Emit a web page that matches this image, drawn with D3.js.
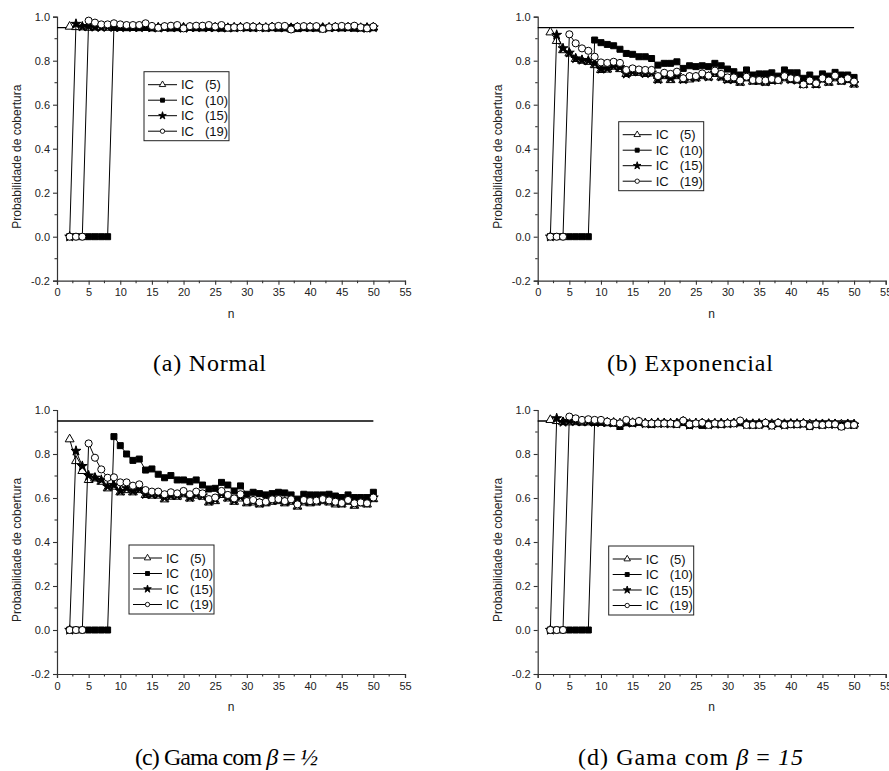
<!DOCTYPE html>
<html><head><meta charset="utf-8">
<script src="https://cdn.jsdelivr.net/npm/d3@7"></script>
<style>
html,body{margin:0;padding:0;background:#fff;}
svg{display:block;}
.sans{font-family:'Liberation Sans', Arial, Helvetica, sans-serif;}
.serif{font-family:'Liberation Serif', 'Times New Roman', Times, serif;}
</style></head>
<body>
<script>
// ---------- data ----------
const nValues = [2,3,4,5,6,7,8,9,10,11,12,13,14,15,16,17,18,19,20,21,22,23,24,25,26,27,28,29,30,31,32,33,34,35,36,37,38,39,40,41,42,43,44,45,46,47,48,49,50];
const seriesNames = ["IC", "IC", "IC", "IC"];
const seriesTags = ["(5)", "(10)", "(15)", "(19)"];
const nominalLevel = 0.95;
const nominalRange = [0, 50];

const xTickValues = [0,5,10,15,20,25,30,35,40,45,50,55];
const xTickLabels = ["0","5","10","15","20","25","30","35","40","45","50","55"];
const xMinorTicks = [2.5,7.5,12.5,17.5,22.5,27.5,32.5,37.5,42.5,47.5,52.5];
const yTickValues = [-0.2,0,0.2,0.4,0.6,0.8,1.0];
const yTickLabels = ["-0.2","0.0","0.2","0.4","0.6","0.8","1.0"];
const yMinorTicks = [-0.1,0.1,0.3,0.5,0.7,0.9];

const captions = ["(a) Normal", "(b) Exponencial", "(c) Gama com β = ½", "(d) Gama com β = 15"];
const yTitle = "Probabilidade de cobertura";
const xTitle = "n";

// Panel (a) Normal
const normalIC5 = [0.955,0.953,0.952,0.950,0.951,0.952,0.950,0.949,0.951,0.950,
  0.952,0.950,0.949,0.950,0.951,0.950,0.948,0.950,0.951,0.950,
  0.949,0.950,0.951,0.949,0.950,0.948,0.950,0.951,0.949,0.950,
  0.950,0.948,0.951,0.950,0.947,0.949,0.950,0.951,0.950,0.946,
  0.950,0.949,0.951,0.950,0.949,0.948,0.947,0.950,0.951];
const normalIC10 = [0,0,0,0,0,0,0,0.956,0.952,0.950,
  0.951,0.950,0.952,0.949,0.950,0.951,0.949,0.950,0.948,0.951,
  0.950,0.949,0.951,0.950,0.948,0.950,0.949,0.951,0.950,0.949,
  0.951,0.949,0.950,0.948,0.951,0.950,0.946,0.950,0.949,0.951,
  0.948,0.950,0.951,0.949,0.950,0.948,0.950,0.949,0.950];
const normalIC15 = [0,0.967,0.955,0.957,0.953,0.952,0.954,0.952,0.951,0.953,
  0.952,0.951,0.953,0.950,0.949,0.951,0.952,0.950,0.948,0.951,
  0.951,0.952,0.950,0.951,0.950,0.949,0.950,0.951,0.952,0.950,
  0.951,0.950,0.952,0.951,0.950,0.947,0.950,0.951,0.950,0.951,
  0.947,0.950,0.951,0.952,0.951,0.952,0.949,0.948,0.951];
const normalIC19 = [0,0,0,0.982,0.973,0.965,0.965,0.970,0.965,0.962,
  0.962,0.962,0.970,0.958,0.950,0.957,0.959,0.962,0.947,0.957,
  0.959,0.959,0.962,0.955,0.962,0.950,0.952,0.952,0.957,0.955,
  0.952,0.952,0.955,0.958,0.958,0.942,0.955,0.957,0.955,0.957,
  0.944,0.952,0.955,0.958,0.955,0.959,0.952,0.947,0.955];

// Panel (b) Exponencial
const expIC5 = [0.929,0.890,0.848,0.833,0.808,0.800,0.795,0.780,0.758,0.760,
  0.773,0.762,0.740,0.745,0.745,0.740,0.742,0.712,0.730,0.712,
  0.730,0.712,0.715,0.720,0.730,0.724,0.740,0.724,0.712,0.712,
  0.700,0.720,0.705,0.705,0.700,0.708,0.710,0.720,0.712,0.710,
  0.690,0.705,0.690,0.715,0.700,0.720,0.705,0.712,0.692];
const expIC10 = [0,0,0,0,0,0,0,0.894,0.882,0.874,
  0.868,0.852,0.833,0.829,0.818,0.818,0.810,0.780,0.788,0.788,
  0.795,0.765,0.777,0.773,0.777,0.773,0.788,0.777,0.762,0.750,
  0.735,0.758,0.735,0.740,0.740,0.745,0.730,0.758,0.745,0.745,
  0.720,0.735,0.717,0.740,0.730,0.747,0.735,0.735,0.724];
const expIC15 = [0,0.917,0.856,0.836,0.810,0.803,0.800,0.788,0.762,0.765,
  0.776,0.770,0.740,0.750,0.750,0.742,0.745,0.715,0.735,0.720,
  0.735,0.715,0.724,0.724,0.735,0.727,0.745,0.727,0.715,0.715,
  0.705,0.724,0.710,0.710,0.705,0.712,0.712,0.724,0.715,0.712,
  0.694,0.708,0.694,0.717,0.705,0.724,0.710,0.715,0.697];
const expIC19 = [0,0,0,0.920,0.879,0.856,0.845,0.818,0.792,0.790,
  0.795,0.790,0.758,0.765,0.760,0.758,0.758,0.730,0.745,0.740,
  0.750,0.720,0.730,0.730,0.742,0.732,0.755,0.740,0.724,0.724,
  0.710,0.727,0.712,0.712,0.710,0.717,0.712,0.730,0.720,0.717,
  0.692,0.710,0.697,0.720,0.710,0.732,0.710,0.720,0.705];

// Panel (c) Gama beta = 1/2
const gHalfIC5 = [0.867,0.768,0.723,0.682,0.689,0.674,0.644,0.652,0.626,0.636,
  0.626,0.636,0.614,0.611,0.611,0.594,0.606,0.606,0.617,0.598,
  0.611,0.606,0.580,0.586,0.614,0.598,0.583,0.598,0.576,0.580,
  0.571,0.576,0.583,0.586,0.576,0.583,0.561,0.580,0.576,0.580,
  0.586,0.580,0.571,0.571,0.583,0.565,0.576,0.571,0.595];
const gHalfIC10 = [0,0,0,0,0,0,0,0.879,0.838,0.800,
  0.771,0.777,0.727,0.732,0.708,0.692,0.702,0.682,0.682,0.674,
  0.682,0.659,0.641,0.644,0.671,0.659,0.632,0.655,0.617,0.626,
  0.620,0.614,0.620,0.626,0.623,0.614,0.595,0.617,0.614,0.614,
  0.614,0.617,0.609,0.602,0.614,0.602,0.602,0.602,0.626];
const gHalfIC15 = [0,0.814,0.745,0.702,0.692,0.682,0.652,0.659,0.632,0.644,
  0.632,0.641,0.617,0.617,0.617,0.602,0.611,0.611,0.621,0.603,
  0.617,0.611,0.586,0.594,0.620,0.603,0.589,0.606,0.583,0.586,
  0.577,0.583,0.589,0.592,0.583,0.589,0.568,0.586,0.583,0.586,
  0.594,0.586,0.580,0.577,0.589,0.573,0.583,0.577,0.602];
const gHalfIC19 = [0,0,0,0.848,0.783,0.730,0.692,0.694,0.671,0.671,
  0.656,0.662,0.636,0.629,0.629,0.617,0.626,0.621,0.632,0.617,
  0.629,0.621,0.595,0.602,0.632,0.614,0.598,0.617,0.586,0.591,
  0.580,0.583,0.594,0.595,0.586,0.594,0.571,0.591,0.586,0.588,
  0.595,0.589,0.583,0.577,0.591,0.576,0.580,0.576,0.602];

// Panel (d) Gama beta = 15
const g15IC5 = [0.955,0.950,0.945,0.944,0.945,0.943,0.944,0.942,0.943,0.942,
  0.941,0.940,0.942,0.941,0.942,0.940,0.939,0.941,0.940,0.939,
  0.940,0.941,0.938,0.939,0.940,0.938,0.939,0.940,0.938,0.939,
  0.941,0.938,0.937,0.938,0.939,0.937,0.938,0.937,0.938,0.937,
  0.938,0.936,0.937,0.936,0.937,0.936,0.935,0.936,0.935];
const g15IC10 = [0,0,0,0,0,0,0,0.945,0.945,0.942,
  0.940,0.925,0.942,0.940,0.945,0.938,0.935,0.938,0.940,0.938,
  0.937,0.945,0.930,0.938,0.930,0.935,0.937,0.935,0.938,0.940,
  0.942,0.935,0.933,0.935,0.938,0.932,0.938,0.933,0.936,0.935,
  0.937,0.925,0.935,0.933,0.935,0.934,0.930,0.934,0.932];
const g15IC15 = [0,0.962,0.945,0.950,0.948,0.946,0.947,0.945,0.944,0.943,
  0.942,0.930,0.943,0.941,0.945,0.938,0.937,0.940,0.939,0.938,
  0.937,0.948,0.932,0.939,0.935,0.933,0.937,0.936,0.938,0.940,
  0.945,0.934,0.933,0.934,0.938,0.930,0.938,0.932,0.936,0.936,
  0.938,0.928,0.935,0.933,0.936,0.935,0.928,0.934,0.933];
const g15IC19 = [0,0,0,0.970,0.962,0.955,0.958,0.955,0.955,0.947,
  0.944,0.939,0.955,0.944,0.950,0.939,0.939,0.939,0.939,0.939,
  0.936,0.952,0.935,0.939,0.942,0.932,0.939,0.936,0.939,0.939,
  0.952,0.932,0.932,0.932,0.942,0.929,0.942,0.932,0.935,0.935,
  0.939,0.927,0.935,0.932,0.935,0.935,0.924,0.932,0.932];

// ---------- layout ----------
const W = 889, H = 771;
const plotW = 348, plotH = 264;
const panels = [
  {x0: 57,    yTop: 16.7, legend: [87, 55],  series: [normalIC5, normalIC10, normalIC15, normalIC19], cap: {x: 153, y: 371, w: 113}},
  {x0: 537.7, yTop: 16.7, legend: [81, 105], series: [expIC5, expIC10, expIC15, expIC19],             cap: {x: 607, y: 371, w: 166}},
  {x0: 57,    yTop: 410,  legend: [72, 135], series: [gHalfIC5, gHalfIC10, gHalfIC15, gHalfIC19],     cap: {x: 135, y: 765, w: 183}},
  {x0: 537.7, yTop: 410,  legend: [71, 136], series: [g15IC5, g15IC10, g15IC15, g15IC19],             cap: {x: 578, y: 765, w: 225}}
];

const symbolTypes = [d3.symbolTriangle, d3.symbolSquare, d3.symbolStar, d3.symbolCircle];
const symbolFill = ["#fff", "#000", "#000", "#fff"];
const symbolSize = [34, 36, 30, 40];
const legendSymbolSize = [18, 16, 18, 15];

const svg = d3.select("body").append("svg").attr("width", W).attr("height", H)
  .attr("class", "sans");
svg.append("rect").attr("width", W).attr("height", H).attr("fill", "#fff");

const axisColor = "#333";

panels.forEach((p, pi) => {
  const x = d3.scaleLinear().domain([0, 55]).range([p.x0, p.x0 + plotW]);
  const y = d3.scaleLinear().domain([-0.2, 1.0]).range([p.yTop + plotH, p.yTop]);
  const g = svg.append("g");

  // x axis
  const xa = g.append("g").attr("transform", `translate(0,${p.yTop + plotH})`)
    .call(d3.axisBottom(x).tickValues(xTickValues).tickSize(4).tickPadding(4)
      .tickFormat((d, i) => xTickLabels[i]));
  xa.append("g").selectAll("line").data(xMinorTicks).join("line")
    .attr("x1", d => x(d)).attr("x2", d => x(d)).attr("y1", 0).attr("y2", 2.5);
  // y axis
  const ya = g.append("g").attr("transform", `translate(${p.x0},0)`)
    .call(d3.axisLeft(y).tickValues(yTickValues).tickSize(4).tickPadding(3)
      .tickFormat((d, i) => yTickLabels[i]));
  ya.append("g").selectAll("line").data(yMinorTicks).join("line")
    .attr("y1", d => y(d)).attr("y2", d => y(d)).attr("x1", 0).attr("x2", -2.5);

  [xa, ya].forEach(a => {
    a.attr("font-family", null);
    a.selectAll(".domain").attr("stroke", axisColor).attr("stroke-width", 1.2);
    a.selectAll("line").attr("stroke", axisColor).attr("stroke-width", 1.1);
    a.selectAll("text").attr("fill", "#222").attr("font-size", 11).attr("class", "sans");
  });

  // titles
  g.append("text").attr("class", "sans").attr("x", x(27.5)).attr("y", p.yTop + plotH + 37)
    .attr("text-anchor", "middle").attr("font-size", 12).attr("fill", "#222").text(xTitle);
  g.append("text").attr("class", "sans").attr("transform", `translate(${p.x0 - 36},${p.yTop + 140}) rotate(-90)`)
    .attr("text-anchor", "middle").attr("font-size", 12).attr("fill", "#222").text(yTitle);

  // nominal reference line
  g.append("line").attr("x1", x(nominalRange[0])).attr("x2", x(nominalRange[1]))
    .attr("y1", y(nominalLevel)).attr("y2", y(nominalLevel))
    .attr("stroke", "#000").attr("stroke-width", 1.3);

  // series
  const line = d3.line().x((d, i) => x(nValues[i])).y(d => y(d));
  p.series.forEach((vals, si) => {
    g.append("path").attr("d", line(vals)).attr("fill", "none")
      .attr("stroke", "#000").attr("stroke-width", 1);
    const sym = d3.symbol().type(symbolTypes[si]).size(symbolSize[si]);
    g.append("g").selectAll("path").data(vals).join("path")
      .attr("transform", (d, i) => `translate(${x(nValues[i])},${y(d)})`)
      .attr("d", sym())
      .attr("fill", symbolFill[si]).attr("stroke", "#000").attr("stroke-width", 1);
  });

  // legend
  const lg = g.append("g").attr("transform", `translate(${p.x0 + p.legend[0]},${p.yTop + p.legend[1]})`);
  lg.append("rect").attr("width", 85).attr("height", 69).attr("fill", "#fff")
    .attr("stroke", "#222").attr("stroke-width", 1);
  seriesTags.forEach((tag, si) => {
    const ry = 13 + si * 15.5;
    lg.append("line").attr("x1", 4).attr("x2", 33).attr("y1", ry).attr("y2", ry)
      .attr("stroke", "#000").attr("stroke-width", 1);
    lg.append("path").attr("transform", `translate(18.5,${ry})`)
      .attr("d", d3.symbol().type(symbolTypes[si]).size(legendSymbolSize[si])())
      .attr("fill", symbolFill[si]).attr("stroke", "#000").attr("stroke-width", 0.9);
    lg.append("text").attr("class", "sans").attr("x", 37).attr("y", ry + 4.5).attr("font-size", 13).attr("fill", "#111")
      .text(seriesNames[si]);
    lg.append("text").attr("class", "sans").attr("x", 61).attr("y", ry + 4.5).attr("font-size", 13).attr("fill", "#111")
      .text(tag);
  });

  // caption
  const cap = svg.append("text").attr("class", "serif").attr("x", p.cap.x).attr("y", p.cap.y)
    .attr("font-size", 24)
    .attr("fill", "#000").attr("textLength", p.cap.w).attr("lengthAdjust", "spacing");
  const c = captions[pi];
  const bi = c.indexOf("β");
  if (bi < 0) {
    cap.text(c);
  } else {
    const head = c.slice(0, bi);
    const rest = c.slice(bi + 1);          // " = ½" or " = 15"
    const eq = rest.indexOf("=");
    cap.append("tspan").text(head);
    cap.append("tspan").attr("font-style", "italic").text("β");
    cap.append("tspan").text(rest.slice(0, eq + 1) + " ");
    cap.append("tspan").attr("font-style", "italic").text(rest.slice(eq + 1).trim());
  }
});
</script>
</body></html>
